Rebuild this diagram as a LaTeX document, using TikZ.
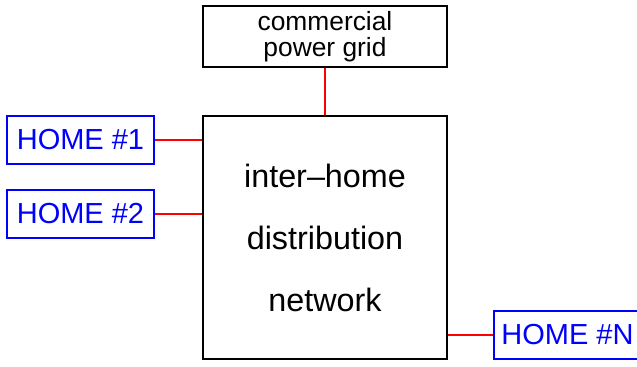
\documentclass[tikz,border=0pt]{standalone}
\usepackage{fontspec}
\setmainfont{Liberation Sans}

\begin{document}
\begin{tikzpicture}[x=0.02cm,y=-0.02cm,
    caja/.style={draw,line width=1.1pt,inner sep=0pt,align=center},
    casa/.style={draw=blue,text=blue,line width=1.1pt,inner sep=0pt,
        minimum width=2.94cm,minimum height=0.96cm,
        font=\fontsize{16.5pt}{19pt}\selectfont},
    enlace/.style={red,line width=0.6pt}]
        \useasboundingbox (0,0) rectangle (637,367);

        % Red comercial y red de distribución
        \node[caja,minimum width=4.88cm,minimum height=1.22cm,
            font=\fontsize{15pt}{14.8pt}\selectfont] (grid) at (325,36.5) {commercial\\power grid};
        \node[caja,minimum width=4.88cm,minimum height=4.86cm,
            font=\fontsize{18.4pt}{35.3pt}\selectfont] (net) at (325,237.5) {inter--home\\distribution\\network};

        % Casas
        \node[casa] (home1) at (80.5,140) {HOME \#1};
        \node[casa] (home2) at (80.5,214) {HOME \#2};
        \node[casa] (homeN) at (567.5,335) {HOME \#N};

        % Enlaces
        \draw[enlace] (grid.south) -- (net.north);
        \draw[enlace] (home1.east) -- (home1.east -| net.west);
        \draw[enlace] (home2.east) -- (home2.east -| net.west);
        \draw[enlace] (homeN.west) -- (homeN.west -| net.east);
    \end{tikzpicture}
\end{document}
